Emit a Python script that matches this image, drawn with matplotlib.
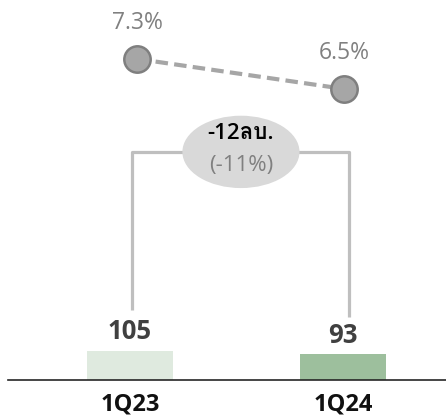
import matplotlib
matplotlib.use("Agg")
import matplotlib.pyplot as plt
from matplotlib import font_manager
from matplotlib.ft2font import FT2Font
from matplotlib.patches import Ellipse

quarters = ["1Q23", "1Q24"]
values = [105, 93]
ratios = [7.3, 6.5]
change_text = "-12ลบ."
change_pct = "(-11%)"

bar_colors = ["#dfeadf", "#9dbf9d"]


def find_thai_font():
    for f in font_manager.fontManager.ttflist:
        try:
            if 0x0E25 in FT2Font(f.fname).get_charmap():
                return f.name
        except Exception:
            pass
    return None


thai = find_thai_font()
fams = ["Open Sans", "DejaVu Sans"]
if thai:
    fams = ["Open Sans", thai, "DejaVu Sans"]
plt.rcParams["font.family"] = fams

fig = plt.figure(figsize=(4.46, 4.16), dpi=100)
ax = fig.add_axes([8 / 446, 36 / 416, 438 / 446, 380 / 416])
x = [0, 1]

ax.bar(x, values, width=0.404, color=bar_colors)
ax.set_xlim(-0.573, 1.484)
ax.set_ylim(0, 1376)

for xi, v in zip(x, values):
    ax.annotate(str(v), (xi, v), xytext=(0, 4), textcoords="offset points",
                ha="center", va="bottom", fontsize=18.5, fontweight="bold",
                color="#404040")

ax.set_xticks(x)
ax.set_xticklabels(quarters, fontsize=17, fontweight="bold", color="#111111")
ax.tick_params(axis="x", length=0, pad=9)
ax.set_yticks([])
for s in ["top", "right", "left"]:
    ax.spines[s].set_visible(False)
ax.spines["bottom"].set_color("#262626")
ax.spines["bottom"].set_linewidth(1.2)

# bracket between the bars
top = 826
ax.plot([0.01, 0.01, 1.03, 1.03], [values[0] + 148, top, top, values[1] + 135],
        color="#bfbfbf", lw=2.3, solid_capstyle="butt", zorder=2)
ax.add_patch(Ellipse((0.521, 826), 0.55, 262, facecolor="#d9d9d9",
                     edgecolor="none", zorder=3))
ax.text(0.521, 894, change_text, ha="center", va="center", fontsize=16,
        fontweight="semibold", color="#000000", zorder=4)
ax.text(0.521, 778, change_pct, ha="center", va="center", fontsize=16,
        color="#808080", zorder=4)

# ratio line on a second axis
ax2 = ax.twinx()
ax2.set_ylim(-1.26, 8.87)
ax2.axis("off")
lx = [0.033, 1.005]
ax2.plot(lx, ratios, linestyle=(0, (3, 1.5)), color="#a6a6a6", lw=3, zorder=2)
ax2.plot(lx, ratios, linestyle="none", marker="o", markersize=19,
         markerfacecolor="#a6a6a6", markeredgecolor="#7f7f7f",
         markeredgewidth=1.8, zorder=3)
for xi, r in zip(lx, ratios):
    ax2.annotate(f"{r}%", (xi, r), xytext=(0, 26), textcoords="offset points",
                 ha="center", va="center", fontsize=16.5, color="#808080")

fig.savefig("out.png", dpi=100)
